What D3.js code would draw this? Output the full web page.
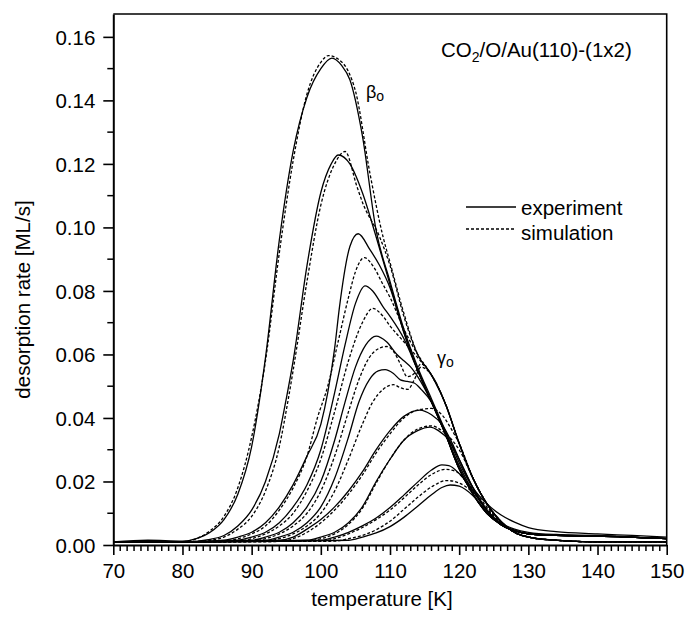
<!doctype html>
<html>
<head>
  <meta charset="utf-8">
  <title>CO2 desorption from O/Au(110)</title>
  <script src="https://d3js.org/d3.v7.min.js"></script>
  <style>
    body { margin:0; background:#fff; }
    svg { display:block; }
    text { font-family:"Liberation Sans", Arial, sans-serif; fill:#000; }
    .tick text { font-size:20.5px; }
    .axis path, .axis line { stroke:#000; }
    .exp { fill:none; stroke:#000; stroke-width:1.3; }
    .sim { fill:none; stroke:#000; stroke-width:1.3; stroke-dasharray:3,2; }
  </style>
</head>
<body>
<svg id="chart" width="686" height="618"></svg>
<script>
// measured TPD traces, [temperature K, desorption rate ML/s]
const exp1 = [[70,.001],[75,.0015],[80,.0012],[82,.002],[84,.004],[86,.008],[88,.016],[90,.031],[92,.059],[94,.096],[96,.124],[98,.141],[100,.150],[101.6,.1533],[103,.151],[104.2,.1465],[106,.129],[108,.099],[110,.083],[112,.068],[114,.056],[116,.046],[118,.036],[120,.026],[122,.018],[124,.013],[126,.0095],[128,.0072],[130,.0055],[134,.0042],[140,.0035],[145,.003],[150,.0025]];
const exp2 = [[70,.001],[80,.001],[84,.0018],[86,.003],[88,.006],[90,.011],[92,.020],[94,.035],[95,.046],[96,.058],[98,.088],[100,.111],[101.5,.120],[102.5,.1228],[104.2,.120],[106,.111],[108,.097],[110,.082],[112,.067],[114,.055],[116,.045],[118,.035],[120,.025],[122,.017],[124,.011],[126,.007],[128,.005],[130,.004],[134,.0033],[140,.003],[145,.0025],[150,.002]];
const exp3 = [[70,.001],[80,.001],[86,.0015],[88,.0025],[90,.004],[92,.007],[94,.012],[96,.019],[98,.028],[100,.038],[101,.048],[102,.062],[102.7,.075],[104.2,.094],[105.4,.098],[107.1,.093],[108.5,.088],[110,.081],[112,.067],[114,.055],[116,.045],[118,.035],[120,.024],[122,.016],[124,.010],[126,.0065],[128,.0045],[130,.0035],[134,.003],[140,.0028],[150,.002]];
const exp4 = [[70,.001],[80,.001],[88,.0015],[90,.0025],[92,.004],[94,.007],[96,.012],[98,.019],[100,.030],[102,.048],[103.5,.063],[105,.076],[106.4,.0816],[107.5,.080],[109,.075],[110,.072],[112,.065],[114,.055],[116,.045],[118,.035],[120,.024],[122,.016],[124,.010],[126,.0065],[128,.0045],[130,.0035],[134,.003],[140,.0028],[150,.002]];
const exp5 = [[70,.001],[80,.001],[90,.0015],[92,.0025],[94,.004],[96,.007],[98,.012],[100,.020],[102,.033],[103.5,.045],[105,.056],[106.5,.063],[108,.0658],[109.5,.064],[111,.060],[112,.058],[113,.056],[114,.053],[116,.045],[118,.035],[120,.024],[122,.016],[124,.010],[126,.0065],[128,.0045],[130,.0035],[134,.003],[140,.0028],[150,.002]];
const exp6 = [[70,.001],[80,.001],[92,.0015],[94,.0025],[96,.004],[98,.007],[100,.012],[102,.021],[104,.034],[105.5,.045],[107,.052],[108.3,.0548],[109.3,.0552],[110.5,.054],[111.5,.052],[112.5,.0515],[113.5,.051],[114.5,.049],[116,.045],[118,.035],[120,.024],[122,.016],[124,.010],[126,.0065],[128,.0045],[130,.0035],[134,.003],[140,.0028],[150,.002]];
const exp7 = [[70,.001],[80,.001],[94,.0015],[96,.0025],[98,.005],[100,.008],[102,.012],[104,.017],[106,.023],[108,.030],[110,.036],[112,.0405],[114.3,.0425],[116,.041],[117.5,.038],[119,.032],[120,.027],[122,.018],[124,.011],[126,.0065],[128,.0045],[130,.0035],[134,.003],[140,.0028],[150,.002]];
const exp8 = [[70,.001],[80,.001],[98,.0015],[100,.0025],[102,.004],[104,.007],[106,.012],[108,.020],[110,.027],[112,.033],[114,.036],[115.8,.0371],[117,.036],[118.5,.033],[120,.027],[122,.018],[124,.011],[126,.0065],[128,.0045],[130,.0035],[134,.003],[140,.0028],[150,.002]];
const exp9 = [[70,.001],[80,.001],[100,.0015],[102,.0025],[104,.004],[106,.006],[108,.0085],[110,.0118],[112,.0157],[114,.0198],[116,.0236],[117.5,.0252],[118.5,.025],[120,.0225],[122,.017],[124,.011],[126,.0065],[128,.0045],[130,.0035],[134,.003],[140,.0028],[150,.002]];
const exp10 = [[70,.001],[80,.001],[104,.0015],[106,.0025],[108,.0038],[110,.0058],[112,.0087],[114,.0122],[116,.0158],[117.5,.0181],[118.7,.0189],[120,.0185],[122,.0155],[124,.0105],[126,.0065],[128,.0045],[130,.0035],[134,.003],[140,.0028],[150,.002]];

// simulated traces
const sim1 = [[70,.0008],[80,.001],[82,.002],[84,.0045],[86,.009],[88,.018],[90,.034],[92,.058],[94,.092],[96,.121],[98,.142],[100,.152],[101.1,.1541],[102.5,.153],[104,.149],[105,.143],[107.1,.117],[109,.097],[110,.089],[112,.073],[114,.060],[116,.0535],[118,.0445],[120,.032],[122,.021],[124,.013],[126,.0075],[128,.004],[130,.0025],[134,.0015],[140,.001],[150,.001]];
const sim2 = [[70,.0008],[80,.001],[84,.0015],[86,.0025],[88,.005],[90,.009],[92,.017],[94,.031],[95.3,.046],[96,.055],[98,.083],[100,.107],[102,.120],[103.5,.1239],[105.2,.113],[106,.108],[108.5,.097],[110,.088],[112,.072],[114,.060],[116,.0535],[118,.0445],[120,.032],[122,.021],[124,.013],[126,.0075],[128,.004],[130,.0025],[134,.0015],[140,.001],[150,.001]];
const sim3 = [[70,.0008],[80,.001],[86,.0012],[88,.002],[90,.0035],[92,.006],[94,.011],[96,.018],[98,.028],[99.5,.040],[101,.050],[102.5,.064],[104,.078],[105,.086],[106.3,.0905],[107.5,.088],[109,.082],[110,.078],[112,.068],[114,.060],[116,.0535],[118,.0445],[120,.032],[122,.021],[124,.013],[126,.0075],[128,.004],[130,.0025],[134,.0015],[140,.001],[150,.001]];
const sim4 = [[70,.0008],[80,.001],[88,.0012],[90,.002],[92,.0035],[94,.006],[96,.010],[98,.017],[100,.027],[102,.042],[104,.058],[106,.070],[107.5,.0745],[109,.072],[110,.069],[112,.064],[114,.059],[116,.0535],[118,.0445],[120,.032],[122,.021],[124,.013],[126,.0075],[128,.004],[130,.0025],[134,.0015],[140,.001],[150,.001]];
const sim5 = [[70,.0008],[80,.001],[90,.0012],[92,.002],[94,.0035],[96,.006],[98,.010],[100,.017],[102,.028],[104,.042],[105.5,.052],[107,.059],[108.5,.062],[109.5,.0625],[110.5,.061],[111.5,.057],[112.5,.053],[113.5,.054],[114.5,.057],[116,.0535],[118,.0445],[120,.032],[122,.021],[124,.013],[126,.0075],[128,.004],[130,.0025],[134,.0015],[140,.001],[150,.001]];
const sim6 = [[70,.0008],[80,.001],[92,.0012],[94,.002],[96,.0035],[98,.006],[100,.010],[102,.017],[104,.027],[106,.038],[107.5,.045],[109,.049],[110.5,.0505],[111.5,.0495],[112.6,.049],[113.5,.052],[114.5,.056],[116,.0535],[118,.0445],[120,.032],[122,.021],[124,.013],[126,.0075],[128,.004],[130,.0025],[134,.0015],[140,.001],[150,.001]];
const sim7 = [[70,.0008],[80,.001],[94,.0012],[96,.002],[98,.004],[100,.007],[102,.011],[104,.016],[106,.022],[108,.029],[110,.035],[112,.040],[114,.0425],[116,.043],[117.5,.041],[119,.036],[120,.032],[122,.021],[124,.013],[126,.0075],[128,.004],[130,.0025],[134,.0015],[140,.001],[150,.001]];
const sim8 = [[70,.0008],[80,.001],[98,.0012],[100,.002],[102,.0035],[104,.0065],[106,.0115],[108,.0195],[110,.027],[112,.033],[114,.0365],[116,.0375],[117.5,.036],[119,.033],[120,.030],[122,.021],[124,.013],[126,.0075],[128,.004],[130,.0025],[134,.0015],[140,.001],[150,.001]];
const sim9 = [[70,.0008],[80,.001],[100,.0012],[102,.002],[104,.0035],[106,.0055],[108,.008],[110,.011],[112,.0148],[114,.0188],[116,.0222],[118,.0238],[119.5,.0232],[121,.020],[122,.0175],[124,.012],[126,.0075],[128,.004],[130,.0025],[134,.0015],[140,.001],[150,.001]];
const sim10 = [[70,.0008],[80,.001],[102,.0012],[104,.002],[106,.003],[108,.0048],[110,.0075],[112,.0112],[114,.015],[116,.0183],[118.2,.0203],[120,.0195],[122,.0165],[124,.0115],[126,.007],[128,.004],[130,.0025],[134,.0015],[140,.001],[150,.001]];

const experiments = [exp1, exp2, exp3, exp4, exp5, exp6, exp7, exp8, exp9, exp10];
const simulations = [sim1, sim2, sim3, sim4, sim5, sim6, sim7, sim8, sim9, sim10];

const xTicks = [70, 80, 90, 100, 110, 120, 130, 140, 150];
const yTicks = [0, 0.02, 0.04, 0.06, 0.08, 0.10, 0.12, 0.14, 0.16];

const svg = d3.select("#chart");
const m = {left:113.3, right:666.7, top:14, bottom:545};

const x = d3.scaleLinear().domain([70, 150]).range([m.left, m.right]);
const y = d3.scaleLinear().domain([0, 0.1672]).range([m.bottom, m.top]);

const line = d3.line()
  .x(d => x(d[0]))
  .y(d => y(d[1]))
  .curve(d3.curveMonotoneX);

const plot = svg.append("g");
plot.append("defs").append("clipPath").attr("id","clip")
  .append("rect")
  .attr("x", m.left).attr("y", m.top)
  .attr("width", m.right-m.left).attr("height", m.bottom-m.top);

const curves = plot.append("g").attr("clip-path","url(#clip)");
simulations.forEach(s => curves.append("path").datum(s).attr("class","sim").attr("d", line));
experiments.forEach(s => curves.append("path").datum(s).attr("class","exp").attr("d", line));

// frame (top + right)
svg.append("path")
  .attr("d", `M${m.left},${m.top}H${m.right}V${m.bottom}`)
  .attr("fill","none").attr("stroke","#000").attr("stroke-width",1.6);

// minor ticks
const xMinor = d3.range(70, 151, 1).filter(v => v % 10 !== 0);
svg.append("g").selectAll("line").data(xMinor).enter().append("line")
  .attr("x1", d => x(d)).attr("x2", d => x(d))
  .attr("y1", m.bottom).attr("y2", m.bottom+6)
  .attr("stroke","#000").attr("stroke-width",1.5);
const yMinor = d3.range(0.01, 0.167, 0.02);
svg.append("g").selectAll("line").data(yMinor).enter().append("line")
  .attr("x1", m.left-6).attr("x2", m.left)
  .attr("y1", d => y(d)).attr("y2", d => y(d))
  .attr("stroke","#000").attr("stroke-width",1.5);

const xAxis = svg.append("g").attr("class","axis")
  .attr("transform",`translate(0,${m.bottom})`)
  .call(d3.axisBottom(x).tickValues(xTicks).tickSize(10).tickPadding(8).tickSizeOuter(0));
const yAxis = svg.append("g").attr("class","axis")
  .attr("transform",`translate(${m.left},0)`)
  .call(d3.axisLeft(y).tickValues(yTicks).tickFormat(d3.format(".2f")).tickSize(10).tickPadding(8).tickSizeOuter(0));
[xAxis, yAxis].forEach(a => {
  a.select(".domain").attr("stroke-width",2);
  a.selectAll(".tick line").attr("stroke-width",1.6);
  a.selectAll(".tick text").attr("fill","#000");
});
yAxis.selectAll(".tick text").attr("dy","0.36em");

// axis titles
svg.append("text")
  .attr("x", 382).attr("y", 606)
  .attr("text-anchor","middle").style("font-size","20.5px")
  .text("temperature [K]");
svg.append("text")
  .attr("transform", `translate(30,${(m.top+m.bottom)/2+20}) rotate(-90)`)
  .attr("text-anchor","middle").style("font-size","20.5px")
  .text("desorption rate [ML/s]");

// title
const title = svg.append("text").attr("x", 441).attr("y", 57).style("font-size","20.5px");
title.append("tspan").text("CO");
title.append("tspan").attr("dy", 5).style("font-size","14px").text("2");
title.append("tspan").attr("dy", -5).text("/O/Au(110)-(1x2)");

// peak labels
const beta = svg.append("text").attr("x", 366).attr("y", 98).style("font-size","18px");
beta.append("tspan").text("β");
beta.append("tspan").attr("dy", 3).style("font-size","14px").text("o");
const gamma = svg.append("text").attr("x", 437).attr("y", 364).style("font-size","18px");
gamma.append("tspan").text("γ");
gamma.append("tspan").attr("dy", 3).style("font-size","14px").text("o");

// legend
const legend = svg.append("g");
legend.append("line").attr("class","exp")
  .attr("x1",466).attr("x2",516).attr("y1",207).attr("y2",207);
legend.append("text").attr("x",521).attr("y",214.5).style("font-size","20.5px").text("experiment");
legend.append("line").attr("class","sim")
  .attr("x1",466).attr("x2",516).attr("y1",229).attr("y2",229);
legend.append("text").attr("x",521).attr("y",239.5).style("font-size","20.5px").text("simulation");
</script>
</body>
</html>
